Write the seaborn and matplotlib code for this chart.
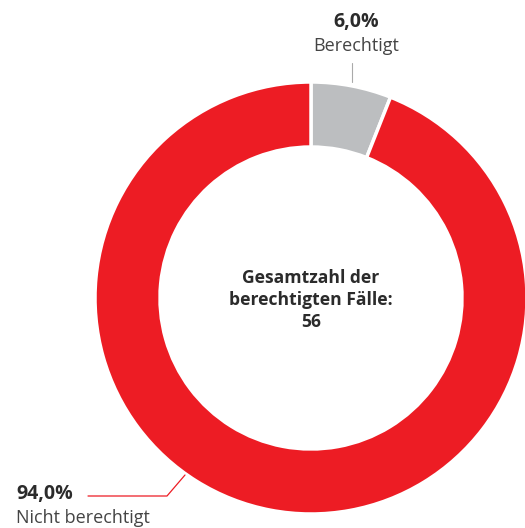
import matplotlib
matplotlib.use("Agg")
import matplotlib.pyplot as plt
import seaborn as sns

labels = ["Berechtigt", "Nicht berechtigt"]
values = [6.0, 94.0]
pct_labels = ["6,0%", "94,0%"]
total_cases = 56
colors = ["#BCBEC0", "#ED1C24"]

sns.set_theme(style="white")
plt.rcParams['font.family'] = ['Open Sans', 'DejaVu Sans']

W, H = 525, 528
fig = plt.figure(figsize=(W / 100, H / 100), dpi=100)
ax = fig.add_axes([0, 0, 1, 1])

cx, cy, R = 311, 230, 216
ax.pie(values, colors=colors, startangle=90, counterclock=False,
       center=(cx, cy), radius=R, frame=True,
       wedgeprops=dict(width=65, edgecolor="white", linewidth=2.5))
ax.set_xlim(0, W)
ax.set_ylim(0, H)
ax.set_aspect("equal")
ax.axis("off")

txt = "#2b2b2b"
ax.text(311, 228, f"Gesamtzahl der\nberechtigten Fälle:\n{total_cases}", ha="center", va="center",
        fontsize=12.6, fontweight="bold", color=txt, linespacing=1.3)

# Berechtigt label
ax.text(356, 506, pct_labels[0], ha="center", va="center", fontsize=14, fontweight="bold", color=txt)
ax.text(356, 482, labels[0], ha="center", va="center", fontsize=13, color="#444444")
ax.plot([352, 352], [465, 446], color="#aaaaaa", lw=0.8)

# Nicht berechtigt label
ax.text(16, 34, pct_labels[1], ha="left", va="center", fontsize=14, fontweight="bold", color=txt)
ax.text(16, 10, labels[1], ha="left", va="center", fontsize=13, color="#444444")
ax.plot([88, 167, 185], [32, 32, 53], color="#ED1C24", lw=0.9)

fig.savefig("out.png", dpi=100)
